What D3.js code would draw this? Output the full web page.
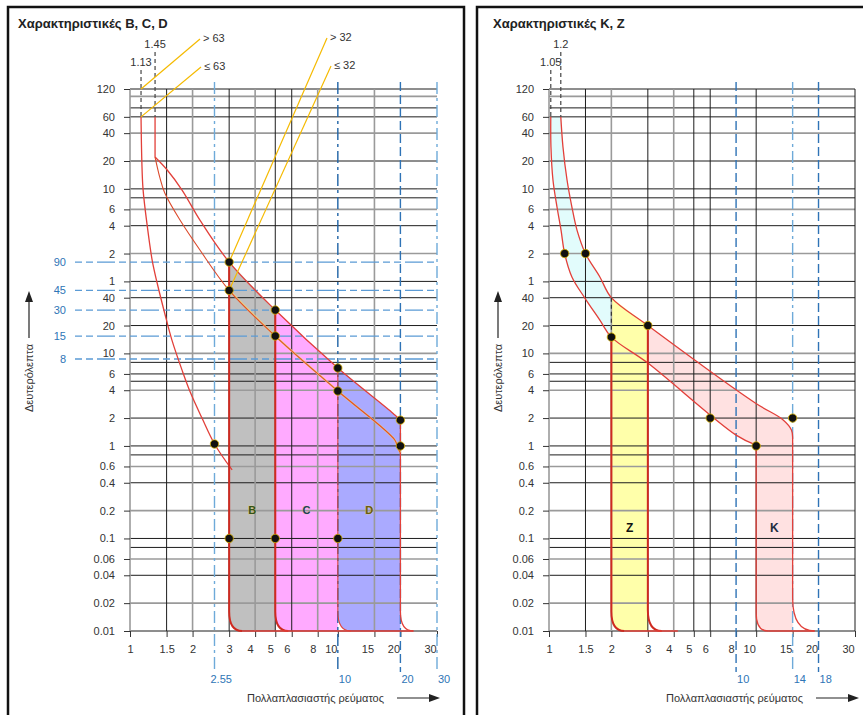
<!DOCTYPE html>
<html>
<head>
<meta charset="utf-8">
<style>
  body { margin: 0; background: #fff; }
  svg text { font-family: Arial, "Liberation Sans", Helvetica, sans-serif; }
  .tick text { font-size: 11px; fill: #333; }
  .tick line { stroke: #333; }
</style>
<script src="https://cdn.jsdelivr.net/npm/d3@7/dist/d3.min.js"></script>
</head>
<body>
<svg id="chart" width="863" height="715"></svg>
<script>
// ---- axes (time in seconds, upper labels are minutes) ----
const yTickValues = [7200, 3600, 2400, 1200, 600, 360, 240, 120, 60, 40, 20, 10, 6, 4, 2, 1, 0.6, 0.4, 0.2, 0.1, 0.06, 0.04, 0.02, 0.01];
const yTickLabels = ["120", "60", "40", "20", "10", "6", "4", "2", "1", "40", "20", "10", "6", "4", "2", "1", "0.6", "0.4", "0.2", "0.1", "0.06", "0.04", "0.02", "0.01"];
const yExtraLines = [6000, 4500, 480, 8, 5, 0.8, 0.08];
const xTickValues = [1, 1.5, 2, 3, 4, 5, 6, 8, 10, 15, 20, 30];

// ---- B, C, D ----
const bcdThresholds = [{ x: 1.13, label: "1.13" }, { x: 1.32, label: "1.45" }];
const bcdThermalLow = [[1.13, 3600], [1.14, 1200], [1.155, 600], [1.21, 240], [1.28, 100], [1.35, 58], [1.47, 27], [1.59, 14], [1.78, 6.6], [1.96, 3.7], [2.22, 2.0], [2.55, 1.05], [3.1, 0.55]];
const bcdUpper = [[1.32, 3600], [1.32, 1325], [1.51, 959], [1.78, 583], [2.17, 276], [3, 97], [5, 29.4], [10, 6.95], [18.4, 2.26], [19.7, 1.95], [20, 1.75]];
const bcdLower = [[1.32, 1325], [1.39, 805], [1.47, 541], [1.74, 276], [2.17, 131], [3, 48], [5, 15.4], [10, 3.92], [18.8, 1.16], [19.4, 0.97], [20, 0.84]];
const bcdRegions = [
  { name: "B", from: 3, to: 5 },
  { name: "C", from: 5, to: 10 },
  { name: "D", from: 10, to: 20 }
];
const bcdLabelTime = 0.2;
const bcdDots = [[3, 97], [3, 48], [5, 29.4], [5, 15.4], [10, 6.95], [10, 3.92], [20, 1.9], [20, 1.0], [2.55, 1.05], [3, 0.1], [5, 0.1], [10, 0.1]];
const bcdTimeMarks = [{ t: 97, label: "90" }, { t: 48, label: "45" }, { t: 29.4, label: "30" }, { t: 15.4, label: "15" }, { t: 8.7, label: "8" }];
const bcdCurrentMarks = [{ x: 2.55, label: "2.55" }, { x: 10, label: "10" }, { x: 20, label: "20" }, { x: 30, label: "30" }];
const bcdLeaders = [
  { label: "> 63", to: [1.13, 7200] },
  { label: "≤ 63", to: [1.13, 3600] },
  { label: "> 32", to: [3, 97] },
  { label: "≤ 32", to: [3, 48] }
];

// ---- K, Z ----
const kzThresholds = [{ x: 1.02, label: "1.05" }, { x: 1.14, label: "1.2" }];
const kzThermalLow = [[1.02, 3600], [1.022, 1700], [1.045, 748], [1.093, 382], [1.143, 215], [1.19, 120], [1.29, 67], [1.49, 39.6], [1.76, 22.9], [2, 15], [3, 7.87], [8, 1.31], [10, 1.02]];
const kzThermalHigh = [[1.14, 3600], [1.168, 1700], [1.222, 748], [1.29, 382], [1.365, 215], [1.5, 120], [1.76, 67], [2, 40], [3, 20], [9.9, 2.91], [13.5, 1.91], [14.8, 1.49], [15, 1.25]];
const kzRegions = [{ name: "Z", from: 2, to: 3 }, { name: "K", from: 10, to: 15 }];
const kzLabelTime = 0.13;
const kzDots = [[1.19, 120], [1.5, 120], [3, 20], [2, 15], [6, 2], [15, 2], [10, 1]];
const kzCurrentMarks = [{ x: 8, label: "10" }, { x: 15, label: "14" }, { x: 20, label: "18" }];

// ---- styles ----
const RED = "#e2403a", RED_DARK = "#cf2a20";
const GRID_DARK = "#1d1d1d", GRID_GRAY = "#9a9a9a";
const grayY = [6000, 2400, 360, 120, 10, 4, 0.6, 0.2, 0.06, 0.02];
const grayX = [1, 2, 4, 8, 15];
const blueStyles = {
  light: { stroke: "#6eaad9", dash: "12,4,3,4" },
  dark: { stroke: "#1f63a6", dash: "12,4,3,4" },
  dashed: { stroke: "#2f73b6", dash: "9,4" }
};
const bcdRegionColors = { B: "#c0c0c0", C: "#ffaaff", D: "#aaaaff" };
const bcdLabelColors = { B: "#34521a", C: "#1d3d5e", D: "#6a5c10" };

const H = 715;
const svg = d3.select("#chart");
const y = d3.scaleLog().domain([0.01, 7200]).range([631, 89]);
const yBottom = y(0.01), yTop = y(7200);
const smooth = d3.curveCatmullRom.alpha(0.5);
const asL = s => s.replace(/^M/, "L");

function lineOf(x, pts, curve) {
  return d3.line().x(d => x(d[0])).y(d => y(d[1])).curve(curve || d3.curveLinear)(pts);
}
function hookDown(px, r) { return `L${px},${yBottom - r * 1.5}Q${px},${yBottom} ${px + r},${yBottom}`; }
function hookUp(px, r) { return `L${px + r},${yBottom}Q${px},${yBottom} ${px},${yBottom - r * 1.5}`; }

function makePanel(p) {
  const x = d3.scaleLog().domain([1, 30]).range(p.plot);
  const root = svg.append("g");
  const L = {
    x,
    fill: root.append("g"),
    grid: root.append("g"),
    blue: root.append("g"),
    curves: root.append("g"),
    top: root.append("g")
  };
  const g = L.grid;

  g.append("path")
    .attr("d", `M${p.border[0]},${H + 5}V7H${p.border[1]}V${H + 5}`)
    .attr("fill", "none").attr("stroke", "#111").attr("stroke-width", 2.5);
  g.append("text").attr("x", p.titleX).attr("y", 28)
    .attr("font-size", 13).attr("font-weight", "bold").attr("fill", "#222")
    .text(p.title);

  // grid
  g.selectAll(".hl").data(yTickValues.concat(yExtraLines)).join("line")
    .attr("x1", p.plot[0]).attr("x2", p.plot[1])
    .attr("y1", d => y(d)).attr("y2", d => y(d))
    .attr("stroke", d => grayY.includes(d) ? GRID_GRAY : GRID_DARK)
    .attr("stroke-width", d => grayY.includes(d) ? 1.6 : 1);
  g.selectAll(".vl").data(xTickValues.filter(v => !p.blueX.includes(v))).join("line")
    .attr("x1", d => x(d)).attr("x2", d => x(d))
    .attr("y1", yTop).attr("y2", yBottom)
    .attr("stroke", d => grayX.includes(d) ? GRID_GRAY : GRID_DARK)
    .attr("stroke-width", d => grayX.includes(d) ? 1.6 : 1);

  // axes
  g.append("g").attr("transform", `translate(${p.plot[0]},0)`)
    .call(d3.axisLeft(y).tickValues(yTickValues).tickFormat((d, i) => yTickLabels[i]).tickSize(6).tickPadding(9))
    .call(a => a.select(".domain").remove());
  g.append("g").attr("transform", `translate(0,${yBottom})`)
    .call(d3.axisBottom(x).tickValues(xTickValues).tickFormat(d => String(d)).tickSize(6).tickPadding(8))
    .call(a => a.select(".domain").remove())
    .selectAll(".tick text").attr("dx", d => d >= 10 ? -7 : d >= 4 ? -5 : 0);

  // axis titles with arrows
  const ax = p.border[0] + 21;
  g.append("text").attr("transform", `translate(${ax + 4},378) rotate(-90)`)
    .attr("text-anchor", "middle").attr("font-size", 11).attr("fill", "#333")
    .text("Δευτερόλεπτα");
  g.append("line").attr("x1", ax).attr("x2", ax).attr("y1", 338).attr("y2", 300)
    .attr("stroke", "#222").attr("stroke-width", 1.2);
  g.append("path").attr("d", `M${ax - 4},302L${ax},291L${ax + 4},302Z`).attr("fill", "#222");

  const tx = p.plot[0] + 117;
  g.append("text").attr("x", tx).attr("y", 702).attr("font-size", 11).attr("fill", "#333")
    .text("Πολλαπλασιαστής ρεύματος");
  g.append("line").attr("x1", tx + 150).attr("x2", tx + 183).attr("y1", 698).attr("y2", 698)
    .attr("stroke", "#222").attr("stroke-width", 1.2);
  g.append("path").attr("d", `M${tx + 182},694L${tx + 193},698L${tx + 182},702Z`).attr("fill", "#222");

  return L;
}

function drawCurrentMarks(L, marks, styles) {
  marks.forEach((m, i) => {
    const s = blueStyles[styles[i]];
    const px = L.x(m.x);
    L.blue.append("line").attr("x1", px).attr("x2", px).attr("y1", yTop - 7).attr("y2", 672)
      .attr("stroke", s.stroke).attr("stroke-width", 1.4).attr("stroke-dasharray", s.dash);
    L.blue.append("text").attr("x", px + (m.label.length > 2 ? -4 : 1)).attr("y", 683)
      .attr("font-size", 11).attr("fill", "#2e75b6").text(m.label);
  });
}

function drawThresholds(L, list, startTime) {
  list.forEach((t, i) => {
    const px = L.x(t.x);
    L.top.append("line").attr("x1", px).attr("x2", px)
      .attr("y1", i === 0 ? 70 : 52).attr("y2", y(startTime))
      .attr("stroke", "#444").attr("stroke-width", 1.2).attr("stroke-dasharray", "4,3");
    L.top.append("text").attr("x", px).attr("y", i === 0 ? 66 : 48)
      .attr("text-anchor", "middle").attr("font-size", 11).attr("fill", "#333").text(t.label);
  });
}

function drawDots(L, dots) {
  L.top.selectAll(".dot").data(dots).join("circle")
    .attr("cx", d => L.x(d[0])).attr("cy", d => y(d[1])).attr("r", 4.2)
    .attr("fill", "#111").attr("stroke", "#d9b300").attr("stroke-width", 0.8);
}

function redPath(layer, d, color, width) {
  return layer.append("path").attr("d", d).attr("fill", "none")
    .attr("stroke", color || RED).attr("stroke-width", width || 1.3);
}

// ================= left panel: B, C, D =================
const left = makePanel({ title: "Χαρακτηριστικές B, C, D", titleX: 18, border: [8, 464], plot: [130, 437], blueX: [10, 20, 30] });
{
  const x = left.x;
  bcdRegions.forEach(r => {
    const top = bcdUpper.filter(d => d[0] >= r.from && d[0] <= r.to);
    const d = lineOf(x, top, smooth) + `L${x(r.to)},${yBottom}` + hookUp(x(r.from), 13) + "Z";
    left.fill.append("path").attr("d", d).attr("fill", bcdRegionColors[r.name]);
    left.top.append("text").attr("x", x(Math.sqrt(r.from * r.to))).attr("y", y(bcdLabelTime))
      .attr("dy", "0.35em").attr("text-anchor", "middle")
      .attr("font-size", 11).attr("font-weight", "bold")
      .attr("fill", bcdLabelColors[r.name]).attr("stroke", "#e8d76a").attr("stroke-width", 0.5)
      .style("paint-order", "stroke").text(r.name);
  });

  // blue guide lines
  bcdTimeMarks.forEach(m => {
    left.blue.append("line").attr("x1", 75).attr("x2", x(30)).attr("y1", y(m.t)).attr("y2", y(m.t))
      .attr("stroke", "#5b9bd5").attr("stroke-width", 1.3).attr("stroke-dasharray", "7,4,7,4,18,4");
    left.blue.append("text").attr("x", 66).attr("y", y(m.t)).attr("dy", "0.35em")
      .attr("text-anchor", "end").attr("font-size", 11).attr("fill", "#2e75b6").text(m.label);
  });
  drawCurrentMarks(left, bcdCurrentMarks, ["light", "dark", "dashed", "light"]);

  // trip curves
  redPath(left.curves, lineOf(x, bcdThermalLow, smooth));
  const [u0, ...uRest] = bcdUpper;
  const last = bcdUpper[bcdUpper.length - 1];
  redPath(left.curves, `M${x(u0[0])},${y(u0[1])}` + asL(lineOf(x, uRest, smooth)) + hookDown(x(last[0]), 13));
  redPath(left.curves, lineOf(x, bcdLower.filter(d => d[0] >= 3), smooth), "#f3d77a", 2);
  redPath(left.curves, lineOf(x, bcdLower, smooth), "#dc4a2c", 1.1);
  bcdRegions.forEach((r, i) => {
    const topY = bcdUpper.find(d => d[0] === r.from)[1];
    redPath(left.curves, `M${x(r.from)},${y(topY)}` + hookDown(x(r.from), 13), i < 2 ? RED_DARK : RED, i < 2 ? 2 : 1.1);
  });
  redPath(left.curves, `M${x(3) + 13},${yBottom}L${x(20) + 13},${yBottom}`, RED, 1.6);

  drawThresholds(left, bcdThresholds, 3600);

  // leader lines to the conventional times
  const leaderPos = [[203, 42], [204, 70], [330, 41], [334, 69]];
  bcdLeaders.forEach((l, i) => {
    const [tx, ty] = leaderPos[i];
    left.top.append("line").attr("x1", tx - 3).attr("y1", ty - 3)
      .attr("x2", x(l.to[0])).attr("y2", y(l.to[1]))
      .attr("stroke", "#f5ba00").attr("stroke-width", 1.2);
    left.top.append("text").attr("x", tx).attr("y", ty).attr("font-size", 11).attr("fill", "#333").text(l.label);
  });

  drawDots(left, bcdDots);
}

// ================= right panel: K, Z =================
const right = makePanel({ title: "Χαρακτηριστικές K, Z", titleX: 493, border: [477, 872], plot: [549, 855], blueX: [8, 15, 20] });
{
  const x = right.x;
  const [z, k] = kzRegions;

  // cyan band between the thermal limits
  const hi = kzThermalHigh.filter(d => d[0] <= z.from);
  const lo = kzThermalLow.filter(d => d[0] <= z.from).reverse();
  right.fill.append("path").attr("d", lineOf(x, hi, smooth) + asL(lineOf(x, lo, smooth)) + "Z").attr("fill", "#e2fcfc");

  // Z
  const zTop = kzThermalHigh.filter(d => d[0] >= z.from && d[0] <= z.to);
  right.fill.append("path")
    .attr("d", lineOf(x, zTop) + `L${x(z.to)},${yBottom}` + hookUp(x(z.from), 13) + "Z")
    .attr("fill", "#ffffaa");

  // K band
  const kTop = kzThermalHigh.filter(d => d[0] >= z.to);
  const kBottom = kzThermalLow.filter(d => d[0] >= z.to).reverse();
  right.fill.append("path")
    .attr("d", lineOf(x, kTop, smooth) + `L${x(k.to)},${yBottom}` + hookUp(x(k.from), 12) + asL(lineOf(x, kBottom, smooth)) + "Z")
    .attr("fill", "#ffe1e1");

  kzRegions.forEach(r => {
    right.top.append("text").attr("x", x(Math.sqrt(r.from * r.to))).attr("y", y(kzLabelTime))
      .attr("dy", "0.35em").attr("text-anchor", "middle")
      .attr("font-size", 12).attr("font-weight", "bold")
      .attr("fill", r.name === "K" ? "#1e2d40" : "#111").text(r.name);
  });

  drawCurrentMarks(right, kzCurrentMarks, ["dashed", "light", "dashed"]);

  // trip curves
  redPath(right.curves, lineOf(x, kzThermalLow, smooth) + hookDown(x(k.from), 12));
  redPath(right.curves, lineOf(x, kzThermalHigh, smooth) + hookDown(x(k.to), 22));
  const zLeftTop = kzThermalLow.find(d => d[0] === z.from)[1];
  const zRightTop = kzThermalHigh.find(d => d[0] === z.to)[1];
  redPath(right.curves, `M${x(z.from)},${y(zLeftTop)}` + hookDown(x(z.from), 13), RED_DARK, 2);
  redPath(right.curves, `M${x(z.to)},${y(zRightTop)}` + hookDown(x(z.to), 14), RED_DARK, 2);
  redPath(right.curves, `M${x(z.from) + 13},${yBottom}L${x(z.to) + 30},${yBottom}`, RED, 1.6);
  redPath(right.curves, `M${x(k.from) + 12},${yBottom}L${x(k.to) + 22},${yBottom}`, RED, 1.6);

  // dashed border between the cyan band and Z
  const zHiTop = kzThermalHigh.find(d => d[0] === z.from)[1];
  right.curves.append("line").attr("x1", x(z.from)).attr("x2", x(z.from))
    .attr("y1", y(zHiTop)).attr("y2", y(zLeftTop))
    .attr("stroke", "#333").attr("stroke-width", 1.2).attr("stroke-dasharray", "4,3");

  drawThresholds(right, kzThresholds, 3600);
  drawDots(right, kzDots);
}
</script>
</body>
</html>
